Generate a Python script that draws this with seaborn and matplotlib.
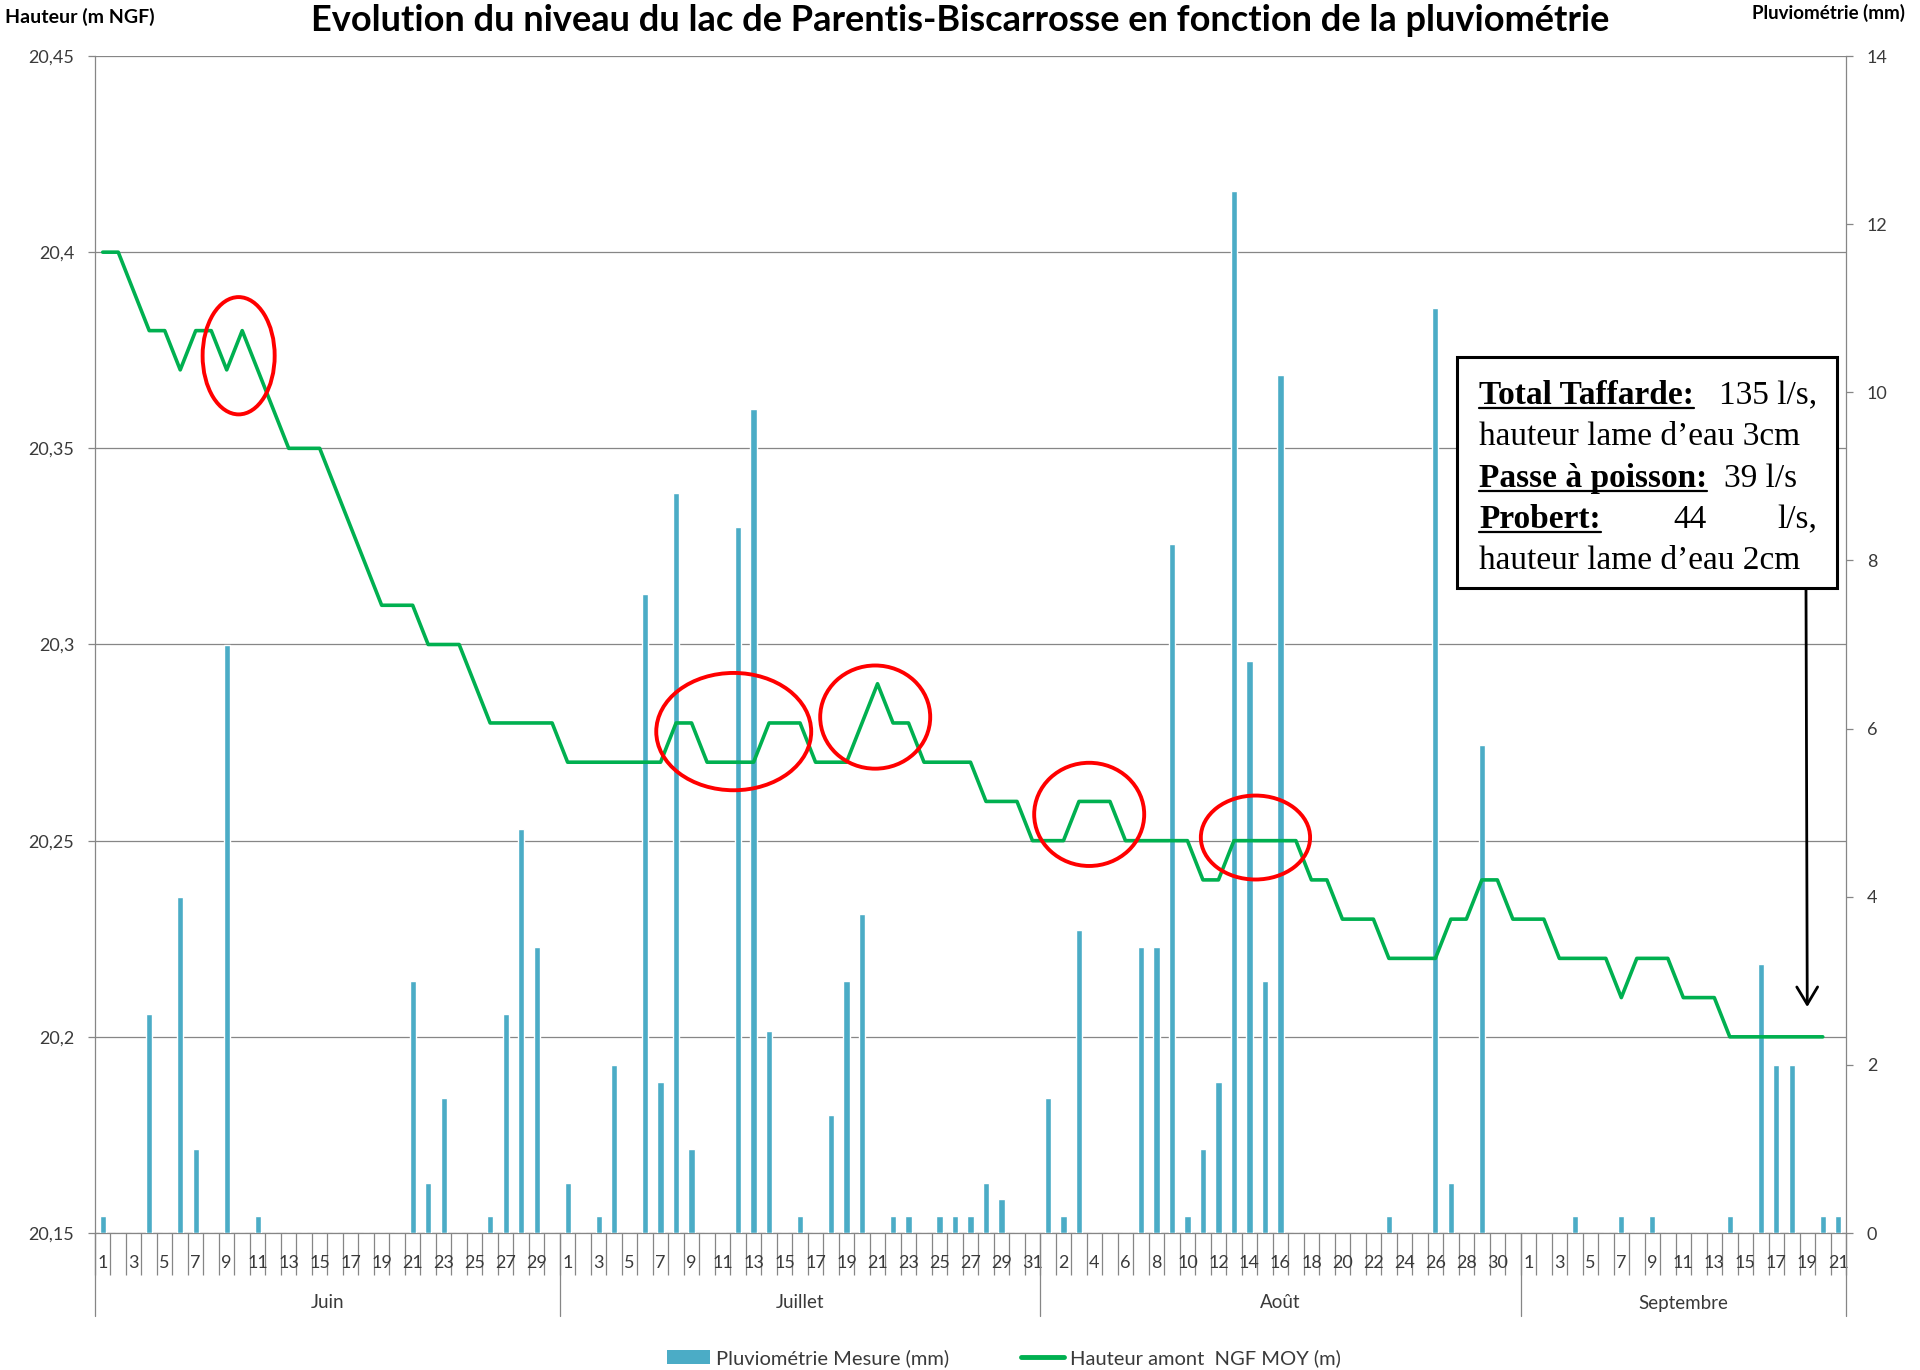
import numpy as np
import pandas as pd
import matplotlib
matplotlib.use("Agg")
import matplotlib.pyplot as plt
import seaborn as sns
from matplotlib.patches import Ellipse, Rectangle
from matplotlib.lines import Line2D
from matplotlib.transforms import blended_transform_factory, IdentityTransform

# ---------------- data ----------------
months = ["Juin", "Juillet", "Août", "Septembre"]
month_days = [30, 31, 31, 21]

rain_juin = [0.2, 0, 0, 2.6, 0, 4.0, 1.0, 0, 7.0, 0, 0.2, 0, 0, 0, 0, 0, 0, 0, 0, 0,
             3.0, 0.6, 1.6, 0, 0, 0.2, 2.6, 4.8, 3.4, 0]
rain_juillet = [0.6, 0, 0.2, 2.0, 0, 7.6, 1.8, 8.8, 1.0, 0, 0, 8.4, 9.8, 2.4, 0, 0.2,
                0, 1.4, 3.0, 3.8, 0, 0.2, 0.2, 0, 0.2, 0.2, 0.2, 0.6, 0.4, 0, 0]
rain_aout = [1.6, 0.2, 3.6, 0, 0, 0, 3.4, 3.4, 8.2, 0.2, 1.0, 1.8, 12.4, 6.8, 3.0, 10.2,
             0, 0, 0, 0, 0, 0, 0.2, 0, 0, 11.0, 0.6, 0, 5.8, 0, 0]
rain_sept = [0, 0, 0, 0.2, 0, 0, 0.2, 0, 0.2, 0, 0, 0, 0, 0.2, 0, 3.2, 2.0, 2.0, 0, 0.2, 0.2]

level_juin = [20.40, 20.40, 20.39, 20.38, 20.38, 20.37, 20.38, 20.38, 20.37, 20.38,
              20.37, 20.36, 20.35, 20.35, 20.35, 20.34, 20.33, 20.32, 20.31, 20.31,
              20.31, 20.30, 20.30, 20.30, 20.29, 20.28, 20.28, 20.28, 20.28, 20.28]
level_juillet = [20.27, 20.27, 20.27, 20.27, 20.27, 20.27, 20.27, 20.28, 20.28, 20.27,
                 20.27, 20.27, 20.27, 20.28, 20.28, 20.28, 20.27, 20.27, 20.27, 20.28,
                 20.29, 20.28, 20.28, 20.27, 20.27, 20.27, 20.27, 20.26, 20.26, 20.26, 20.25]
level_aout = [20.25, 20.25, 20.26, 20.26, 20.26, 20.25, 20.25, 20.25, 20.25, 20.25,
              20.24, 20.24, 20.25, 20.25, 20.25, 20.25, 20.25, 20.24, 20.24, 20.23,
              20.23, 20.23, 20.22, 20.22, 20.22, 20.22, 20.23, 20.23, 20.24, 20.24, 20.23]
level_sept = [20.23, 20.23, 20.22, 20.22, 20.22, 20.22, 20.21, 20.22, 20.22, 20.22,
              20.21, 20.21, 20.21, 20.20, 20.20, 20.20, 20.20, 20.20, 20.20, 20.20, np.nan]

level_ticks = [20.15, 20.2, 20.25, 20.3, 20.35, 20.4, 20.45]
level_tick_labels = ["20,15", "20,2", "20,25", "20,3", "20,35", "20,4", "20,45"]
rain_ticks = [0, 2, 4, 6, 8, 10, 12, 14]

title = "Evolution du niveau du lac de Parentis-Biscarrosse en fonction de la pluviométrie"
left_label = "Hauteur (m NGF)"
right_label = "Pluviométrie (mm)"
legend_labels = ["Pluviométrie Mesure (mm)", "Hauteur amont  NGF MOY (m)"]

# red highlight ellipses (center index, center level, width in days, height in m)
ellipses = [(8.77, 20.3736, 4.65, 0.0299),
            (40.72, 20.2778, 10.0, 0.0299),
            (49.85, 20.2815, 7.1, 0.0263),
            (63.66, 20.2567, 7.1, 0.0263),
            (74.39, 20.2508, 7.05, 0.0214)]

# ---------------- assemble ----------------
rain = rain_juin + rain_juillet + rain_aout + rain_sept
level = level_juin + level_juillet + level_aout + level_sept
day_numbers = [d for m in month_days for d in range(1, m + 1)]
n = len(rain)
df = pd.DataFrame({"idx": np.arange(n), "rain": rain, "level": level, "day": day_numbers})

sns.set_theme(style="white")
plt.rcParams['font.family'] = ['Lato', 'DejaVu Sans']

W, H = 1920, 1370
L, R, B, T = 95, 1846, 1233, 56
fig = plt.figure(figsize=(W / 100, H / 100), dpi=100)
fig.patch.set_facecolor("white")
ax = fig.add_axes([L / W, 1 - B / H, (R - L) / W, (B - T) / H])
axr = ax.twinx()
axl = ax.twinx()

GRAY = "#868686"
TXT = "#3a3a3a"
BLUE = "#4BACC6"
GREEN = "#00B050"

sns.barplot(data=df, x="idx", y="rain", ax=axr, color=BLUE, width=0.4,
            saturation=1, legend=False)
sns.lineplot(data=df, x="idx", y="level", ax=axl, color=GREEN, linewidth=2.6, legend=False)

# level axis (left) with grid
ax.set_ylim(level_ticks[0], level_ticks[-1])
ax.set_yticks(level_ticks)
ax.set_yticklabels(level_tick_labels)
ax.yaxis.grid(True, color=GRAY, linewidth=0.9)
ax.xaxis.grid(False)
ax.set_axisbelow(True)
ax.tick_params(axis="y", which="both", left=True, length=5, width=0.9, color=GRAY,
               pad=10, labelsize=13, labelcolor=TXT)
for s in ["left", "bottom", "right"]:
    ax.spines[s].set_visible(True)
    ax.spines[s].set_color(GRAY)
    ax.spines[s].set_linewidth(0.9)
ax.spines["top"].set_visible(False)

# rain axis (right)
axr.set_ylim(0, 14)
axr.set_yticks(rain_ticks)
axr.set_yticklabels([str(v) for v in rain_ticks])
axr.tick_params(axis="y", right=True, length=5, width=0.9, color=GRAY, pad=10,
                labelsize=13, labelcolor=TXT)
for s in axr.spines.values():
    s.set_visible(False)
axr.set_ylabel("")
axr.set_xlabel("")

# overlay line axis
axl.set_ylim(level_ticks[0], level_ticks[-1])
axl.yaxis.set_visible(False)
for s in axl.spines.values():
    s.set_visible(False)
axl.set_xlabel("")
axl.set_ylabel("")
ax.set_ylabel("")

# x axis: day boundaries + day labels
ax.set_xlim(-0.5, n - 0.5)
ax.set_xticks(np.arange(-0.5, n, 1.0))
ax.set_xticklabels([])
ax.set_xticks(np.arange(n), minor=True)
ax.set_xticklabels([str(d) if i % 2 == 0 else "" for i, d in enumerate(day_numbers)], minor=True)
ax.tick_params(axis="x", which="major", bottom=True, length=30, width=0.9, color=GRAY, direction="out")
ax.tick_params(axis="x", which="minor", bottom=True, length=0, pad=16, labelsize=13, labelcolor=TXT)
ax.set_xlabel("")

# month separators and names
btr = blended_transform_factory(ax.transData, ax.transAxes)
ext = 83 / (B - T)
bounds = np.concatenate([[-0.5], np.cumsum(month_days) - 0.5])
for b in bounds:
    ax.add_line(Line2D([b, b], [0, -ext], transform=btr, color=GRAY, lw=0.9, clip_on=False))
for i, m in enumerate(months):
    c = (bounds[i] + bounds[i + 1]) / 2
    ax.text(c, -70 / (B - T), m, transform=btr, ha="center", va="center",
            fontsize=13.5, color=TXT)

# ellipses
for (cx, cy, w, h) in ellipses:
    axl.add_patch(Ellipse((cx, cy), w, h, fill=False, edgecolor="#FF0000", lw=2.8,
                          clip_on=False, zorder=5))

# titles
fig.text(0.5, 1 - 31 / H, title, ha="center", va="baseline", fontsize=26,
         fontweight="bold", color="black")
fig.text(5 / W, 1 - 23 / H, left_label, ha="left", va="baseline", fontsize=14,
         fontweight="bold", color="black")
fig.text(1752 / W, 1 - 19 / H, right_label, ha="left", va="baseline", fontsize=13.5,
         fontweight="bold", color="black")

# legend
handles = [Rectangle((0, 0), 1, 1, facecolor=BLUE, edgecolor="none"),
           Line2D([0], [0], color=GREEN, lw=3.5)]
fig.legend(handles, legend_labels, loc="center", bbox_to_anchor=(1004 / W, 1 - 1358 / H),
           ncol=2, frameon=False, fontsize=14.5, handlelength=2.1, columnspacing=3.6,
           handletextpad=0.3, labelcolor=TXT)

# annotation box
bx0, bx1, by0, by1 = 1457, 1837, 357, 588
fig.add_artist(Rectangle((bx0 / W, 1 - by1 / H), (bx1 - bx0) / W, (by1 - by0) / H,
                         transform=fig.transFigure, facecolor="white", edgecolor="black",
                         lw=2.2, zorder=5))
serif = ["Liberation Serif", "DejaVu Serif"]
fs = 24
baselines = [404, 445, 487, 528, 569]
parts = [
    [(1479, "Total Taffarde:", True, "left"), (1817, "135 l/s,", False, "right")],
    [(1479, "hauteur lame d\u2019eau 3cm", False, "left")],
    [(1479, "Passe à poisson:", True, "left"), (1724, "39 l/s", False, "left")],
    [(1479, "Probert:", True, "left"), (1690, "44", False, "center"), (1817, "l/s,", False, "right")],
    [(1479, "hauteur lame d\u2019eau 2cm", False, "left")],
]
bold_texts = []
for yb, line in zip(baselines, parts):
    for x, s, bold, ha in line:
        t = fig.text(x / W, 1 - yb / H, s, ha=ha, va="baseline", fontsize=fs,
                     family=serif, fontweight="bold" if bold else "normal",
                     color="black", zorder=6)
        if bold:
            bold_texts.append((t, yb))

# arrow from box down to the line
axl.annotate("", xy=(110, 20.2076), xycoords="data",
             xytext=(1806, H - by1), textcoords="figure pixels",
             arrowprops=dict(arrowstyle="->,head_length=0.5,head_width=0.3",
                             mutation_scale=25, lw=2, color="black",
                             shrinkA=0, shrinkB=0),
             annotation_clip=False, zorder=6)

fig.canvas.draw()
renderer = fig.canvas.get_renderer()
for t, yb in bold_texts:
    bb = t.get_window_extent(renderer)
    yy = H - yb - 4
    fig.add_artist(Line2D([bb.x0, bb.x1], [yy, yy], transform=IdentityTransform(),
                          color="black", lw=1.6, zorder=7))

fig.savefig("out.png", dpi=100, facecolor="white")
